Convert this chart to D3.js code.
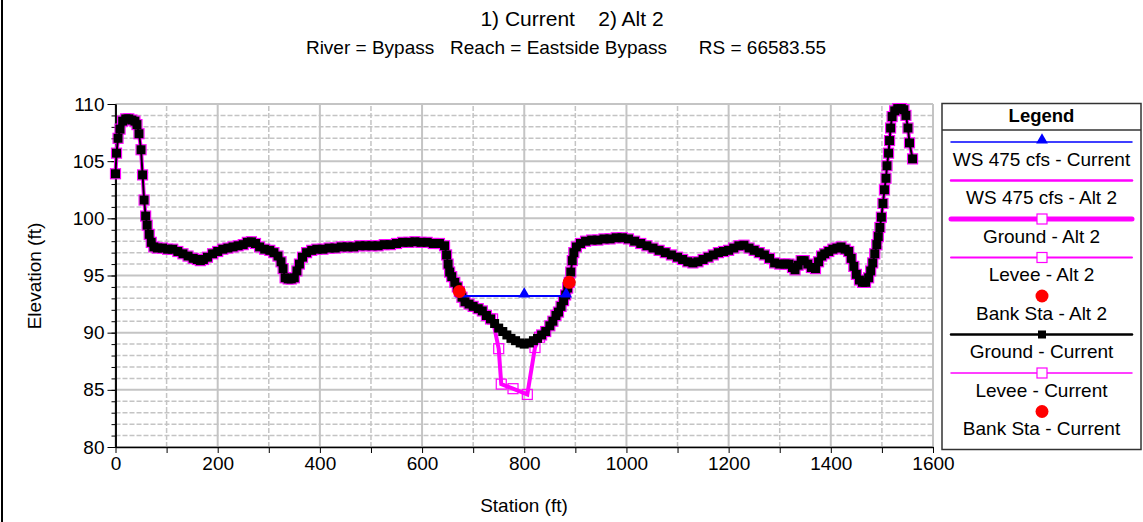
<!DOCTYPE html>
<html>
<head>
<meta charset="utf-8">
<script src="https://cdn.jsdelivr.net/npm/d3@7"></script>
<style>
  body { margin: 0; background: #fff; }
  svg { font-family: "Liberation Sans", Arial, sans-serif; }
  svg text { white-space: pre; }
</style>
</head>
<body>
<svg id="chart" width="1143" height="522"></svg>
<script>
/******* DATA *******/
var groundStations = [0,2,5,9,14,20,26,32,38,42,46,50,53,56,59,62,66,70,75,82,92,102,112,122,132,142,152,160,166,172,180,190,200,210,220,230,240,250,258,266,274,282,292,302,310,318,324,328,332,338,344,350,355,360,366,374,384,394,406,418,430,442,454,466,478,490,502,514,526,538,550,562,574,586,598,610,622,634,644,648,651,654,658,664,669,673,678,684,692,700,710,718,726,734,742,750,758,766,774,783,792,800,810,818,826,834,842,850,856,862,867,872,877,881,885,888,891,894,897,902,910,920,932,944,956,968,980,992,1004,1016,1028,1040,1052,1064,1076,1088,1100,1110,1120,1130,1140,1150,1160,1170,1180,1190,1200,1210,1220,1230,1240,1250,1260,1270,1280,1290,1300,1310,1318,1325,1330,1336,1342,1348,1355,1362,1370,1376,1382,1388,1396,1404,1412,1420,1428,1435,1440,1445,1450,1456,1462,1468,1474,1478,1482,1486,1490,1493,1496,1499,1502,1505,1508,1510,1513,1515,1517,1520,1525,1531,1538,1543,1547,1551,1554,1560];
var groundCurrent = [103.9,105.7,107.0,107.8,108.5,108.7,108.7,108.6,108.5,108.2,107.4,106.0,103.8,101.6,100.2,99.4,98.6,97.9,97.5,97.4,97.4,97.3,97.3,97.1,96.9,96.7,96.5,96.4,96.3,96.4,96.6,96.9,97.1,97.3,97.4,97.5,97.6,97.7,97.9,97.95,97.8,97.5,97.3,97.2,97.0,96.7,96.2,95.6,94.8,94.7,94.7,94.8,95.4,96.0,96.6,97.0,97.2,97.3,97.3,97.4,97.4,97.5,97.5,97.5,97.6,97.6,97.6,97.6,97.7,97.7,97.8,97.9,97.9,97.95,97.9,97.9,97.8,97.8,97.6,96.8,96.0,95.3,94.9,94.4,94.0,93.6,93.1,92.7,92.5,92.3,92.1,91.9,91.5,91.2,90.8,90.4,90.1,89.8,89.5,89.3,89.1,89.0,89.1,89.3,89.5,89.8,90.1,90.6,91.0,91.5,91.8,92.3,92.8,93.3,93.9,94.4,95.3,96.3,97.0,97.5,97.8,98.0,98.1,98.1,98.2,98.2,98.3,98.3,98.2,98.0,97.8,97.6,97.4,97.2,97.0,96.8,96.6,96.4,96.2,96.1,96.2,96.4,96.6,96.8,97.0,97.1,97.2,97.4,97.6,97.65,97.4,97.2,97.0,96.8,96.5,96.1,96.0,96.0,96.0,95.7,95.5,95.9,96.3,96.3,96.0,95.7,95.6,96.2,96.7,96.9,97.1,97.3,97.4,97.5,97.3,97.1,96.5,95.8,95.1,94.6,94.4,94.4,94.8,95.4,96.1,96.9,97.7,98.4,99.2,100.1,101.3,102.5,103.5,104.6,105.7,106.8,107.9,108.9,109.4,109.6,109.6,109.5,109.0,107.9,106.6,105.2];

// Alt 2 deepens the channel between these stations, elsewhere it follows the current ground
var alt2ChannelStations = [738, 750, 755, 778, 806, 821, 830];
var alt2ChannelElev     = [91.2, 88.6, 85.5, 85.1, 84.6, 88.7, 89.6];

var wsStations = [676, 800, 882];
var wsCurrent = 93.2;
var wsAlt2 = 93.2;

var bankStations = [673, 888];
var bankElev = [93.6, 94.4];

var xTickLabels = [0, 200, 400, 600, 800, 1000, 1200, 1400, 1600];
var yTickLabels = [80, 85, 90, 95, 100, 105, 110];

var titleText = "1) Current    2) Alt 2";
var subtitleText = "River = Bypass   Reach = Eastside Bypass      RS = 66583.55";

var legendNames = ["WS 475 cfs - Current", "WS 475 cfs - Alt 2", "Ground - Alt 2", "Levee - Alt 2",
                   "Bank Sta - Alt 2", "Ground - Current", "Levee - Current", "Bank Sta - Current"];

/******* BUILD SERIES *******/
var current = groundStations.map(function(s, i) { return {s: s, e: groundCurrent[i]}; });
var alt2 = current.filter(function(d) { return d.s < alt2ChannelStations[0]; })
  .concat(alt2ChannelStations.map(function(s, i) { return {s: s, e: alt2ChannelElev[i]}; }))
  .concat(current.filter(function(d) { return d.s > alt2ChannelStations[alt2ChannelStations.length - 1]; }));

var svg = d3.select("#chart");

var x = d3.scaleLinear().domain([0, 1600]).range([115.5, 933]);
var y = d3.scaleLinear().domain([80, 110]).range([447, 104]);

var line = d3.line()
    .x(function(d) { return x(d.s); })
    .y(function(d) { return y(d.e); });

// left frame line
svg.append("line").attr("x1", 2).attr("x2", 2).attr("y1", 0).attr("y2", 522)
   .attr("stroke", "#000").attr("stroke-width", 2);

// ---- TITLES ---- //
svg.append("text").attr("x", 572).attr("y", 26).attr("text-anchor", "middle")
   .style("font-size", "21px").text(titleText);
svg.append("text").attr("x", 566).attr("y", 54).attr("text-anchor", "middle")
   .style("font-size", "19px").text(subtitleText);

// ---- GRID ---- //
var grid = svg.append("g");
d3.range(0, 1601, 100).forEach(function(v) {
  grid.append("line")
    .attr("x1", x(v)).attr("x2", x(v)).attr("y1", y(80)).attr("y2", y(110))
    .attr("stroke", "#c4c4c4").attr("stroke-width", v % 200 === 0 ? 2 : 1.5)
    .attr("stroke-dasharray", v % 200 === 0 ? null : "5,2");
});
d3.range(80, 111, 1).forEach(function(v) {
  grid.append("line")
    .attr("x1", x(0)).attr("x2", x(1600)).attr("y1", y(v)).attr("y2", y(v))
    .attr("stroke", "#c4c4c4").attr("stroke-width", v % 5 === 0 ? 2 : 1.5)
    .attr("stroke-dasharray", v % 5 === 0 ? null : "5,2");
});

// ---- AXES ---- //
var xAxis = d3.axisBottom(x).tickValues(d3.range(0, 1601, 100))
    .tickFormat(function(d) { return xTickLabels.indexOf(d) >= 0 ? d : ""; })
    .tickSize(6).tickSizeOuter(0).tickPadding(4);
var yMinor = d3.axisLeft(y).tickValues(d3.range(80, 111, 1)).tickFormat("").tickSize(4).tickSizeOuter(0);
var yMajor = d3.axisLeft(y).tickValues(yTickLabels).tickSize(8).tickSizeOuter(0).tickPadding(3);

var xAxisGroup = svg.append("g").attr("transform", "translate(0," + y(80) + ")").call(xAxis);
svg.append("g").attr("transform", "translate(" + x(0) + ",0)").call(yMinor);
var yAxisGroup = svg.append("g").attr("transform", "translate(" + x(0) + ",0)").call(yMajor);

svg.selectAll(".domain").attr("stroke", "#000").attr("stroke-width", 1.5);
svg.selectAll(".tick line").attr("stroke", "#000");
svg.selectAll(".tick text").style("font-size", "19px").style("font-family", "Liberation Sans, Arial, sans-serif").attr("fill", "#000");

svg.append("text").attr("x", 524).attr("y", 512).attr("text-anchor", "middle")
   .style("font-size", "19px").text("Station (ft)");
svg.append("text").attr("transform", "translate(41,276) rotate(-90)").attr("text-anchor", "middle")
   .style("font-size", "19px").text("Elevation (ft)");

// ---- GROUND ALT 2 ---- //
svg.append("path").datum(alt2).attr("d", line)
   .attr("fill", "none").attr("stroke", "#ff00ff").attr("stroke-width", 4);
svg.selectAll(".alt2pt").data(alt2).enter().append("rect").attr("class", "alt2pt")
   .attr("x", function(d) { return x(d.s) - 5; }).attr("y", function(d) { return y(d.e) - 5; })
   .attr("width", 10).attr("height", 10)
   .attr("fill", "none").attr("stroke", "#ff00ff").attr("stroke-width", 1.2);

// ---- GROUND CURRENT ---- //
svg.append("path").datum(current).attr("d", line)
   .attr("fill", "none").attr("stroke", "#000").attr("stroke-width", 2);
svg.selectAll(".curpt").data(current).enter().append("rect").attr("class", "curpt")
   .attr("x", function(d) { return x(d.s) - 4.5; }).attr("y", function(d) { return y(d.e) - 4.5; })
   .attr("width", 9).attr("height", 9).attr("fill", "#000");

// ---- WATER SURFACE ---- //
var wsAlt2Pts = wsStations.map(function(s) { return {s: s, e: wsAlt2}; });
var wsCurPts = wsStations.map(function(s) { return {s: s, e: wsCurrent}; });
svg.append("path").datum(wsAlt2Pts).attr("d", line)
   .attr("fill", "none").attr("stroke", "#ff00ff").attr("stroke-width", 2);
svg.append("path").datum(wsCurPts).attr("d", line)
   .attr("fill", "none").attr("stroke", "#0000ff").attr("stroke-width", 2);
var tri = d3.symbol().type(d3.symbolTriangle).size(60);
svg.selectAll(".wspt").data(wsCurPts).enter().append("path").attr("class", "wspt")
   .attr("d", tri).attr("transform", function(d) { return "translate(" + x(d.s) + "," + (y(d.e) - 2) + ")"; })
   .attr("fill", "#0000ff");

// ---- BANK STATIONS ---- //
svg.selectAll(".bank").data(bankStations).enter().append("circle").attr("class", "bank")
   .attr("cx", function(d) { return x(d); }).attr("cy", function(d, i) { return y(bankElev[i]); })
   .attr("r", 6.5).attr("fill", "#ff0000");

// ---- LEGEND ---- //
var lg = svg.append("g");
lg.append("rect").attr("x", 942).attr("y", 103.5).attr("width", 199).attr("height", 346)
  .attr("fill", "#fff").attr("stroke", "#333").attr("stroke-width", 1.5);
lg.append("line").attr("x1", 942).attr("x2", 1141).attr("y1", 130).attr("y2", 130)
  .attr("stroke", "#333").attr("stroke-width", 1.5);
lg.append("text").attr("x", 1041.5).attr("y", 122).attr("text-anchor", "middle")
  .style("font-size", "18.5px").style("font-weight", "bold").text("Legend");

var lineStyles = [
  {stroke: "#0000ff", width: 1.5, marker: "tri"},
  {stroke: "#ff00ff", width: 2.5, marker: null},
  {stroke: "#ff00ff", width: 5, marker: "open"},
  {stroke: "#ff00ff", width: 2, marker: "open"},
  {stroke: null, width: 0, marker: "dot"},
  {stroke: "#000", width: 2.5, marker: "fill"},
  {stroke: "#ff00ff", width: 1.5, marker: "open"},
  {stroke: null, width: 0, marker: "dot"}
];

legendNames.forEach(function(name, i) {
  var ly = 142 + i * 38.5;
  var st = lineStyles[i];
  if (st.stroke) {
    lg.append("line").attr("x1", 951).attr("x2", 1132).attr("y1", ly).attr("y2", ly)
      .attr("stroke", st.stroke).attr("stroke-width", st.width).attr("stroke-linecap", "round");
  }
  if (st.marker === "tri") {
    lg.append("path").attr("d", tri).attr("transform", "translate(1042," + (ly - 2) + ")").attr("fill", "#0000ff");
  } else if (st.marker === "open") {
    lg.append("rect").attr("x", 1037).attr("y", ly - 5).attr("width", 10).attr("height", 10)
      .attr("fill", "#fff").attr("stroke", "#ff00ff").attr("stroke-width", 1.2);
  } else if (st.marker === "fill") {
    lg.append("rect").attr("x", 1038).attr("y", ly - 4).attr("width", 8).attr("height", 8).attr("fill", "#000");
  } else if (st.marker === "dot") {
    lg.append("circle").attr("cx", 1042).attr("cy", ly).attr("r", 6.5).attr("fill", "#ff0000");
  }
  lg.append("text").attr("x", 1041.5).attr("y", ly + 23.5).attr("text-anchor", "middle")
    .style("font-size", "19px").text(name);
});
</script>
</body>
</html>
